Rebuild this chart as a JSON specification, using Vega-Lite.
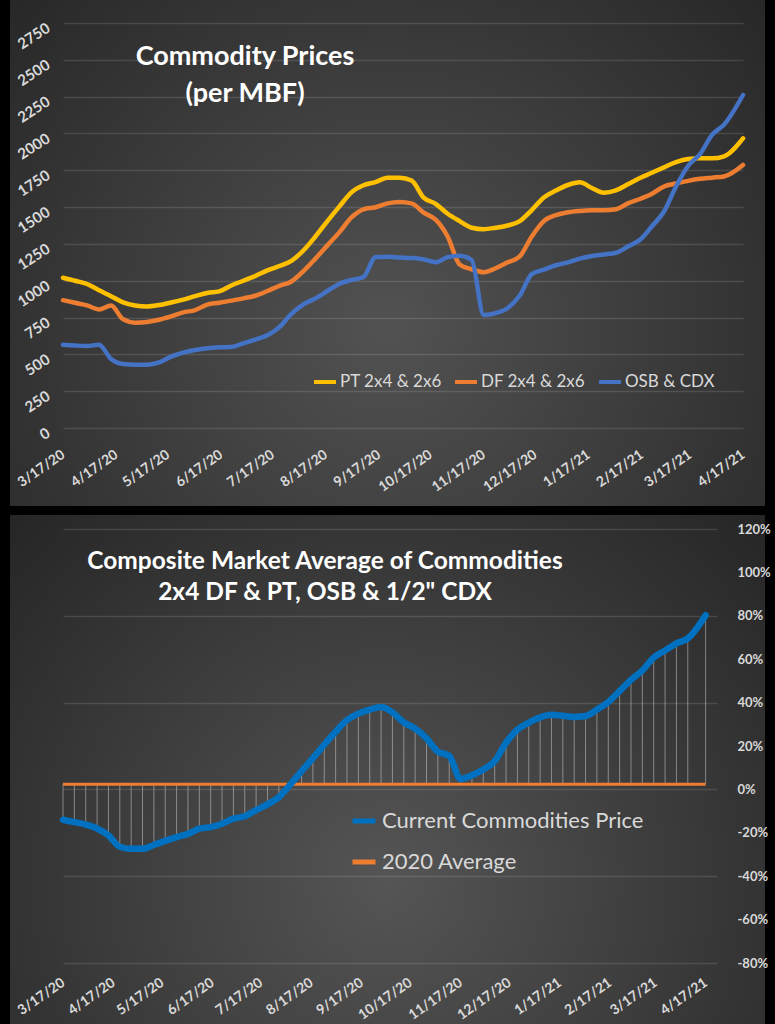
{
  "$schema": "https://vega.github.io/schema/vega-lite/v6.json",
  "background": "black",
  "padding": {"left": 10, "right": 10, "top": 0, "bottom": 0},
  "spacing": 9,
  "resolve": {"scale": {"color": "independent"}, "legend": {"color": "independent"}},
  "config": {
    "axis": {"labelFont": "Lato", "labelFontWeight": "bold", "labelColor": "#d9d9d9", "domain": false, "ticks": false, "labelOverlap": false, "labelFlush": false, "labelBound": false},
    "legend": {"labelFont": "Lato", "labelColor": "#d9d9d9", "padding": 0, "labelLimit": 0},
    "title": {"font": "Lato", "fontWeight": "bold", "color": "#ffffff"}
  },
  "vconcat": [
    {
      "width": 755,
      "height": 506,
      "view": {"stroke": null, "fill": {"gradient": "radial", "x1": 0.5, "y1": 0.6, "r1": 0, "x2": 0.5, "y2": 0.6, "r2": 0.75, "stops": [{"offset": 0, "color": "#525252"}, {"offset": 1, "color": "#222222"}]}},
      "title": {"text": ["Commodity Prices", "(per MBF)"], "anchor": "start", "frame": "group", "align": "center", "dx": 235, "offset": -108, "baseline": "top", "fontSize": 27, "lineHeight": 37},
      "data": {"values": [
        {"date": "2020-03-17", "PT": 1020, "DF": 868, "OSB": 565},
        {"date": "2020-03-24", "PT": 1000, "DF": 850, "OSB": 560},
        {"date": "2020-03-31", "PT": 978, "DF": 833, "OSB": 557},
        {"date": "2020-04-07", "PT": 935, "DF": 805, "OSB": 565},
        {"date": "2020-04-14", "PT": 895, "DF": 832, "OSB": 468},
        {"date": "2020-04-21", "PT": 853, "DF": 738, "OSB": 434},
        {"date": "2020-04-28", "PT": 832, "DF": 715, "OSB": 430},
        {"date": "2020-05-05", "PT": 825, "DF": 720, "OSB": 430},
        {"date": "2020-05-12", "PT": 835, "DF": 735, "OSB": 445},
        {"date": "2020-05-19", "PT": 852, "DF": 758, "OSB": 485},
        {"date": "2020-05-26", "PT": 872, "DF": 785, "OSB": 512},
        {"date": "2020-06-02", "PT": 895, "DF": 801, "OSB": 530},
        {"date": "2020-06-09", "PT": 917, "DF": 838, "OSB": 542},
        {"date": "2020-06-16", "PT": 928, "DF": 850, "OSB": 548},
        {"date": "2020-06-23", "PT": 968, "DF": 865, "OSB": 550},
        {"date": "2020-06-30", "PT": 1000, "DF": 880, "OSB": 575},
        {"date": "2020-07-07", "PT": 1032, "DF": 898, "OSB": 600},
        {"date": "2020-07-14", "PT": 1070, "DF": 930, "OSB": 630},
        {"date": "2020-07-21", "PT": 1100, "DF": 965, "OSB": 685},
        {"date": "2020-07-28", "PT": 1135, "DF": 995, "OSB": 775},
        {"date": "2020-08-04", "PT": 1205, "DF": 1065, "OSB": 840},
        {"date": "2020-08-11", "PT": 1300, "DF": 1150, "OSB": 880},
        {"date": "2020-08-18", "PT": 1405, "DF": 1240, "OSB": 930},
        {"date": "2020-08-25", "PT": 1505, "DF": 1330, "OSB": 980},
        {"date": "2020-09-01", "PT": 1600, "DF": 1430, "OSB": 1005},
        {"date": "2020-09-08", "PT": 1648, "DF": 1485, "OSB": 1025},
        {"date": "2020-09-15", "PT": 1670, "DF": 1499, "OSB": 1160},
        {"date": "2020-09-22", "PT": 1700, "DF": 1525, "OSB": 1163},
        {"date": "2020-09-29", "PT": 1700, "DF": 1535, "OSB": 1158},
        {"date": "2020-10-06", "PT": 1680, "DF": 1525, "OSB": 1154},
        {"date": "2020-10-13", "PT": 1565, "DF": 1462, "OSB": 1145},
        {"date": "2020-10-20", "PT": 1522, "DF": 1415, "OSB": 1125},
        {"date": "2020-10-27", "PT": 1455, "DF": 1300, "OSB": 1160},
        {"date": "2020-11-03", "PT": 1405, "DF": 1110, "OSB": 1170},
        {"date": "2020-11-10", "PT": 1360, "DF": 1078, "OSB": 1141},
        {"date": "2020-11-17", "PT": 1350, "DF": 1058, "OSB": 768},
        {"date": "2020-11-24", "PT": 1360, "DF": 1085, "OSB": 780},
        {"date": "2020-12-01", "PT": 1375, "DF": 1125, "OSB": 815},
        {"date": "2020-12-08", "PT": 1405, "DF": 1165, "OSB": 900},
        {"date": "2020-12-15", "PT": 1480, "DF": 1300, "OSB": 1045},
        {"date": "2020-12-22", "PT": 1565, "DF": 1405, "OSB": 1075},
        {"date": "2020-12-29", "PT": 1612, "DF": 1445, "OSB": 1105},
        {"date": "2021-01-05", "PT": 1650, "DF": 1465, "OSB": 1125},
        {"date": "2021-01-12", "PT": 1668, "DF": 1474, "OSB": 1150},
        {"date": "2021-01-19", "PT": 1630, "DF": 1478, "OSB": 1168},
        {"date": "2021-01-26", "PT": 1598, "DF": 1478, "OSB": 1178},
        {"date": "2021-02-02", "PT": 1614, "DF": 1485, "OSB": 1190},
        {"date": "2021-02-09", "PT": 1655, "DF": 1525, "OSB": 1232},
        {"date": "2021-02-16", "PT": 1698, "DF": 1555, "OSB": 1278},
        {"date": "2021-02-23", "PT": 1733, "DF": 1590, "OSB": 1370},
        {"date": "2021-03-02", "PT": 1770, "DF": 1640, "OSB": 1470},
        {"date": "2021-03-09", "PT": 1805, "DF": 1660, "OSB": 1640},
        {"date": "2021-03-16", "PT": 1826, "DF": 1678, "OSB": 1779},
        {"date": "2021-03-23", "PT": 1831, "DF": 1692, "OSB": 1860},
        {"date": "2021-03-30", "PT": 1831, "DF": 1700, "OSB": 1990},
        {"date": "2021-04-06", "PT": 1845, "DF": 1708, "OSB": 2060},
        {"date": "2021-04-17", "PT": 1967, "DF": 1786, "OSB": 2261}
      ]},
      "transform": [{"fold": ["PT", "DF", "OSB"], "as": ["series", "price"]}],
      "mark": {"type": "line", "strokeWidth": 4.5, "interpolate": "monotone", "strokeCap": "round"},
      "encoding": {
        "x": {"field": "date", "type": "temporal",
          "scale": {"domain": [{"year": 2020, "month": 3, "date": 17, "utc": true}, {"year": 2021, "month": 4, "date": 17, "utc": true}], "range": [53, 733]},
          "axis": {"orient": "bottom", "offset": -61, "grid": false, "title": null,
            "values": [
              {"year": 2020, "month": 3, "date": 17, "utc": true}, {"year": 2020, "month": 4, "date": 17, "utc": true},
              {"year": 2020, "month": 5, "date": 17, "utc": true}, {"year": 2020, "month": 6, "date": 17, "utc": true},
              {"year": 2020, "month": 7, "date": 17, "utc": true}, {"year": 2020, "month": 8, "date": 17, "utc": true},
              {"year": 2020, "month": 9, "date": 17, "utc": true}, {"year": 2020, "month": 10, "date": 17, "utc": true},
              {"year": 2020, "month": 11, "date": 17, "utc": true}, {"year": 2020, "month": 12, "date": 17, "utc": true},
              {"year": 2021, "month": 1, "date": 17, "utc": true}, {"year": 2021, "month": 2, "date": 17, "utc": true},
              {"year": 2021, "month": 3, "date": 17, "utc": true}, {"year": 2021, "month": 4, "date": 17, "utc": true}],
            "labelExpr": "utcFormat(datum.value, '%-m/%-d/%y')",
            "labelAngle": -35, "labelAlign": "right", "labelBaseline": "middle", "labelPadding": 8, "labelFontSize": 14}
        },
        "y": {"field": "price", "type": "quantitative",
          "scale": {"domain": [0, 2750], "range": [428, 23], "nice": false, "zero": false},
          "axis": {"orient": "left", "offset": -40, "title": null, "format": "d", "values": [0, 250, 500, 750, 1000, 1250, 1500, 1750, 2000, 2250, 2500, 2750],
            "grid": true, "gridColor": "#ffffff", "gridOpacity": 0.12, "gridWidth": 1.3,
            "labelAngle": -33, "labelAlign": "right", "labelBaseline": "middle", "labelPadding": 2, "labelOffset": 3, "labelFontSize": 15}
        },
        "color": {"field": "series", "type": "nominal",
          "scale": {"domain": ["PT", "DF", "OSB"], "range": ["#FFC000", "#ED7D31", "#4472C4"]},
          "legend": {"orient": "none", "legendX": 302, "legendY": 369, "direction": "horizontal", "title": null,
            "symbolType": "stroke", "symbolSize": 484, "symbolStrokeWidth": 4, "labelFontSize": 17, "columnPadding": 5, "labelOffset": 2,
            "labelExpr": "datum.label == 'PT' ? 'PT 2x4 & 2x6' : datum.label == 'DF' ? 'DF 2x4 & 2x6' : 'OSB & CDX'"}
        }
      }
    },
    {
      "width": 755,
      "height": 509,
      "view": {"stroke": null, "fill": {"gradient": "radial", "x1": 0.5, "y1": 0.65, "r1": 0, "x2": 0.5, "y2": 0.65, "r2": 0.75, "stops": [{"offset": 0, "color": "#555555"}, {"offset": 1, "color": "#222222"}]}},
      "title": {"text": ["Composite Market Average of Commodities", "2x4 DF & PT, OSB & 1/2\" CDX"], "anchor": "start", "frame": "group", "align": "center", "dx": 315, "offset": -90, "baseline": "top", "fontSize": 24.5, "lineHeight": 31},
      "data": {"values": [
        {"date": "2020-03-17", "comp": -14.0, "avg": 2.4},
        {"date": "2020-03-24", "comp": -15.1, "avg": 2.4},
        {"date": "2020-03-31", "comp": -16.2, "avg": 2.4},
        {"date": "2020-04-07", "comp": -18.0, "avg": 2.4},
        {"date": "2020-04-14", "comp": -21.2, "avg": 2.4},
        {"date": "2020-04-21", "comp": -26.4, "avg": 2.4},
        {"date": "2020-04-28", "comp": -27.4, "avg": 2.4},
        {"date": "2020-05-05", "comp": -27.4, "avg": 2.4},
        {"date": "2020-05-12", "comp": -25.6, "avg": 2.4},
        {"date": "2020-05-19", "comp": -23.7, "avg": 2.4},
        {"date": "2020-05-26", "comp": -22.0, "avg": 2.4},
        {"date": "2020-06-02", "comp": -20.5, "avg": 2.4},
        {"date": "2020-06-09", "comp": -18.1, "avg": 2.4},
        {"date": "2020-06-16", "comp": -17.4, "avg": 2.4},
        {"date": "2020-06-23", "comp": -15.8, "avg": 2.4},
        {"date": "2020-06-30", "comp": -13.5, "avg": 2.4},
        {"date": "2020-07-07", "comp": -12.4, "avg": 2.4},
        {"date": "2020-07-14", "comp": -9.5, "avg": 2.4},
        {"date": "2020-07-21", "comp": -6.9, "avg": 2.4},
        {"date": "2020-07-28", "comp": -3.6, "avg": 2.4},
        {"date": "2020-08-04", "comp": 2.2, "avg": 2.4},
        {"date": "2020-08-11", "comp": 8.4, "avg": 2.4},
        {"date": "2020-08-18", "comp": 14.4, "avg": 2.4},
        {"date": "2020-08-25", "comp": 20.6, "avg": 2.4},
        {"date": "2020-09-01", "comp": 26.6, "avg": 2.4},
        {"date": "2020-09-08", "comp": 32.0, "avg": 2.4},
        {"date": "2020-09-15", "comp": 34.9, "avg": 2.4},
        {"date": "2020-09-22", "comp": 36.8, "avg": 2.4},
        {"date": "2020-09-29", "comp": 38.0, "avg": 2.4},
        {"date": "2020-10-06", "comp": 35.5, "avg": 2.4},
        {"date": "2020-10-13", "comp": 30.9, "avg": 2.4},
        {"date": "2020-10-20", "comp": 28.0, "avg": 2.4},
        {"date": "2020-10-27", "comp": 23.5, "avg": 2.4},
        {"date": "2020-11-03", "comp": 17.4, "avg": 2.4},
        {"date": "2020-11-10", "comp": 15.5, "avg": 2.4},
        {"date": "2020-11-17", "comp": 4.8, "avg": 2.4},
        {"date": "2020-11-24", "comp": 6.5, "avg": 2.4},
        {"date": "2020-12-01", "comp": 9.2, "avg": 2.4},
        {"date": "2020-12-08", "comp": 13.0, "avg": 2.4},
        {"date": "2020-12-15", "comp": 21.5, "avg": 2.4},
        {"date": "2020-12-22", "comp": 27.5, "avg": 2.4},
        {"date": "2020-12-29", "comp": 30.8, "avg": 2.4},
        {"date": "2021-01-05", "comp": 33.2, "avg": 2.4},
        {"date": "2021-01-12", "comp": 34.4, "avg": 2.4},
        {"date": "2021-01-19", "comp": 33.9, "avg": 2.4},
        {"date": "2021-01-26", "comp": 33.4, "avg": 2.4},
        {"date": "2021-02-02", "comp": 33.8, "avg": 2.4},
        {"date": "2021-02-09", "comp": 36.8, "avg": 2.4},
        {"date": "2021-02-16", "comp": 40.3, "avg": 2.4},
        {"date": "2021-02-23", "comp": 45.3, "avg": 2.4},
        {"date": "2021-03-02", "comp": 50.5, "avg": 2.4},
        {"date": "2021-03-09", "comp": 54.8, "avg": 2.4},
        {"date": "2021-03-16", "comp": 60.7, "avg": 2.4},
        {"date": "2021-03-23", "comp": 64.0, "avg": 2.4},
        {"date": "2021-03-30", "comp": 67.3, "avg": 2.4},
        {"date": "2021-04-06", "comp": 69.6, "avg": 2.4},
        {"date": "2021-04-17", "comp": 80.3, "avg": 2.4}
      ]},
      "encoding": {
        "x": {"field": "date", "type": "temporal",
          "scale": {"domain": [{"year": 2020, "month": 3, "date": 17, "utc": true}, {"year": 2021, "month": 4, "date": 24, "utc": true}], "range": [53, 707]},
          "axis": {"orient": "bottom", "offset": -51, "grid": false, "title": null,
            "values": [
              {"year": 2020, "month": 3, "date": 17, "utc": true}, {"year": 2020, "month": 4, "date": 17, "utc": true},
              {"year": 2020, "month": 5, "date": 17, "utc": true}, {"year": 2020, "month": 6, "date": 17, "utc": true},
              {"year": 2020, "month": 7, "date": 17, "utc": true}, {"year": 2020, "month": 8, "date": 17, "utc": true},
              {"year": 2020, "month": 9, "date": 17, "utc": true}, {"year": 2020, "month": 10, "date": 17, "utc": true},
              {"year": 2020, "month": 11, "date": 17, "utc": true}, {"year": 2020, "month": 12, "date": 17, "utc": true},
              {"year": 2021, "month": 1, "date": 17, "utc": true}, {"year": 2021, "month": 2, "date": 17, "utc": true},
              {"year": 2021, "month": 3, "date": 17, "utc": true}, {"year": 2021, "month": 4, "date": 17, "utc": true}],
            "labelExpr": "utcFormat(datum.value, '%-m/%-d/%y')",
            "labelAngle": -35, "labelAlign": "right", "labelBaseline": "middle", "labelPadding": 8, "labelFontSize": 14}
        }
      },
      "layer": [
        {
          "mark": {"type": "rule", "color": "#c8c8c8", "strokeWidth": 1, "opacity": 0.55},
          "encoding": {
            "y": {"field": "comp", "type": "quantitative",
              "scale": {"domain": [-80, 120], "range": [448, 14], "nice": false, "zero": false},
              "axis": {"orient": "right", "offset": -32, "title": null, "values": [-80, -60, -40, -20, 0, 20, 40, 60, 80, 100, 120],
                "labelExpr": "datum.value + '%'", "labelAlign": "left", "labelPadding": 4, "labelFontSize": 13, "grid": false}
            },
            "y2": {"field": "avg"}
          }
        },
        {
          "mark": {"type": "line", "strokeWidth": 3, "interpolate": "monotone"},
          "encoding": {
            "y": {"field": "avg", "type": "quantitative",
              "axis": {"orient": "left", "title": null, "values": [-80, -40, 0, 40, 80, 120], "labels": false, "grid": true, "gridColor": "#ffffff", "gridOpacity": 0.12, "gridWidth": 1.3}},
            "color": {"datum": "2020 Average", "type": "nominal",
              "scale": {"domain": ["Current Commodities Price", "2020 Average"], "range": ["#0070C0", "#ED7D31"]},
              "legend": {"orient": "none", "legendX": 340, "legendY": 292, "direction": "vertical", "title": null,
                "symbolType": "stroke", "symbolSize": 529, "symbolStrokeWidth": 5, "labelFontSize": 22, "rowPadding": 16, "labelOffset": 4, "labelLimit": 0}}
          }
        },
        {
          "mark": {"type": "line", "strokeWidth": 6.5, "interpolate": "monotone", "strokeCap": "round"},
          "encoding": {
            "y": {"field": "comp", "type": "quantitative", "axis": null},
            "color": {"datum": "Current Commodities Price", "type": "nominal"}
          }
        }
      ],
      "resolve": {"axis": {"y": "independent"}}
    }
  ]
}
